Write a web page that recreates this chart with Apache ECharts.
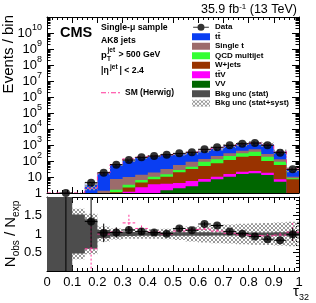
<!DOCTYPE html>
<html><head><meta charset="utf-8">
<script src="https://cdn.jsdelivr.net/npm/echarts@6/dist/echarts.min.js"></script>
<style>html,body{margin:0;padding:0;background:#fff}#c{width:316px;height:303px}</style>
</head><body><div id="c"></div>
<script>
// ---- data (tau_32 bins of width 0.05) ----
const binCenters = [0.025,0.075,0.125,0.175,0.225,0.275,0.325,0.375,0.425,0.475,0.525,0.575,0.625,0.675,0.725,0.775,0.825,0.875,0.925,0.975];
const binWidth = 0.05;
const vv      = [0,0,0,0,0,0.1,0.3,0.6,1.0,1.5,2.0,2.6,5.1,7.2,10.4,15.4,17,13.3,5.1,0.5];
const ttV     = [0,0,0,0,0.05,0.3,0.9,1.7,2.5,2.3,2.2,3.0,2.4,3.2,5.0,6.1,7,5.2,2.1,0.2];
const wJets   = [0,0,0,0,0.15,0.7,1.0,2.2,3.7,6.6,15.8,26.4,41.5,61.6,99.6,163.5,181,81.5,48.8,6.5];
const qcd     = [0,0,0,0,0.1,0.5,1.1,2.0,3.2,4.6,7,12,41,55,90,115,175,85,34,1.1];
const singleT = [0,0,0,0.3,1.1,5.9,6.7,7.5,8.6,17,29,46,43,78,95,140,160,85,37,2.1];
const ttbar   = [0.05,0.1,0.6,3.0,16.6,49.5,94,145,178,213,209,228,307,395,590,740,860,830,273,19.6];
const dataObs = [null,1,null,4.4,18.5,59,115,170,205,247,300,350,540,720,960,1200,1330,960,330,30];
const ratioObs = [null,10,null,1.34,1.03,1.04,1.11,1.07,1.04,1.01,1.15,1.10,1.27,1.23,1.07,1.01,0.93,0.86,0.83,0.99];
const ratioErr = [null,10,null,0.7,0.25,0.14,0.1,0.08,0.07,0.065,0.06,0.055,0.05,0.045,0.04,0.035,0.03,0.03,0.04,0.18];
const statUnc  = [2,2,0.53,0.4,0.11,0.07,0.055,0.05,0.05,0.045,0.045,0.045,0.045,0.04,0.04,0.04,0.04,0.04,0.045,0.06];
const totUnc   = [2,2,0.68,0.55,0.2,0.15,0.13,0.13,0.13,0.14,0.16,0.2,0.23,0.25,0.26,0.28,0.29,0.3,0.31,0.33];
const herwigRatio = [null,null,null,0.6,1.0,1.05,1.3,1.15,1.05,1.0,1.08,1.12,1.13,1.08,1.02,0.98,0.96,0.95,0.97,1.05];
const herwigErr   = [null,null,null,0.6,0.12,0.1,0.22,0.08,0.06,0.05,0.05,0.05,0.05,0.05,0.05,0.05,0.05,0.05,0.06,0.25];
const xTickLabels = ['0','0.1','0.2','0.3','0.4','0.5','0.6','0.7','0.8','0.9','1'];

const FONT = 'Liberation Sans, Arial, Helvetica, sans-serif';
const C = {tt:'#0a3ef2', st:'#9c6b6b', qcd:'#33ff33', w:'#993300', ttv:'#ff00ff', vv:'#006600', stat:'#4d4d4d', hw:'#ff3399'};

// hatch pattern
const pc = document.createElement('canvas'); pc.width = 4; pc.height = 4;
const g = pc.getContext('2d'); g.fillStyle = '#9a9a9a';
for (let i = 0; i < 4; i++) { g.fillRect(i, i, 1, 1); g.fillRect(i, 3 - i, 1, 1); }
const hatch = {image: pc, repeat: 'repeat'};

// cumulative stack (bottom -> top)
const layers = [vv, ttV, wJets, qcd, singleT, ttbar];
const cum = []; let run = binCenters.map(() => 0);
layers.forEach(l => { run = run.map((v, k) => v + l[k]); cum.push(run.slice()); });
const total = cum[cum.length - 1];

const YMIN = 1, YMAX = 1e11;
const clampLog = v => Math.min(YMAX, Math.max(YMIN, v));
const clampR = v => Math.min(2, Math.max(0, v));

function stepPolygon(api, lowFn, highFn) {
  const top = [], bot = [];
  binCenters.forEach((c, k) => {
    const x0 = c - binWidth / 2, x1 = c + binWidth / 2;
    top.push(api.coord([x0, highFn(k)]), api.coord([x1, highFn(k)]));
    bot.push(api.coord([x0, lowFn(k)]), api.coord([x1, lowFn(k)]));
  });
  return top.concat(bot.reverse());
}

function layerSeries(name, idx, color) {
  return {
    name, type: 'custom', xAxisIndex: 0, yAxisIndex: 0, data: [[0.5, 10]], clip: true,
    itemStyle: {color},
    renderItem: (p, api) => ({type: 'polygon', shape: {points: stepPolygon(api, () => YMIN, k => clampLog(cum[idx][k]))}, style: {fill: color}})
  };
}

const series = [
  layerSeries('tt\u0304', 5, C.tt),
  layerSeries('Single t', 4, C.st),
  layerSeries('QCD multijet', 3, C.qcd),
  layerSeries('W+jets', 2, C.w),
  layerSeries('tt\u0304V', 1, C.ttv),
  layerSeries('VV', 0, C.vv),
  // hatched unc on stack top
  {type: 'custom', xAxisIndex: 0, yAxisIndex: 0, data: [[0.5, 10]], clip: true, silent: true,
   renderItem: (p, api) => ({type: 'polygon', shape: {points: stepPolygon(api, k => clampLog(total[k] * (1 - Math.min(totUnc[k], 0.9))), k => clampLog(total[k] * (1 + totUnc[k])))}, style: {fill: hatch}})},
  // Herwig upper step line
  {name: 'SM (Herwig)', type: 'custom', xAxisIndex: 0, yAxisIndex: 0, data: [[0.5, 10]], clip: true, itemStyle: {color: C.hw},
   renderItem: (p, api) => {
     const pts = [];
     binCenters.forEach((c, k) => {
       const v = clampLog(total[k] * (herwigRatio[k] == null ? 1 : herwigRatio[k]));
       pts.push(api.coord([c - binWidth / 2, v]), api.coord([c + binWidth / 2, v]));
     });
     return {type: 'polyline', shape: {points: pts}, style: {stroke: C.hw, lineWidth: 1, lineDash: [4, 2, 1, 2], fill: null}};
   }},
  // data upper
  {name: 'Data', type: 'scatter', xAxisIndex: 0, yAxisIndex: 0, symbol: 'circle', symbolSize: 8, clip: true,
   itemStyle: {color: '#000'}, data: binCenters.map((c, k) => dataObs[k] == null ? null : [c, dataObs[k]]).filter(d => d)},
  {type: 'custom', xAxisIndex: 0, yAxisIndex: 0, clip: true, silent: true,
   data: binCenters.map((c, k) => dataObs[k] == null ? null : [c, dataObs[k]]).filter(d => d),
   renderItem: (p, api) => {
     const c = api.value(0), v = api.value(1);
     const a = api.coord([c - binWidth / 2, v]), b = api.coord([c + binWidth / 2, v]);
     return {type: 'line', shape: {x1: a[0], y1: a[1], x2: b[0], y2: b[1]}, style: {stroke: '#000', lineWidth: 1}};
   }},
  // ratio: total unc hatched
  {name: 'Bkg unc (stat+syst)', type: 'custom', xAxisIndex: 2, yAxisIndex: 2, data: [[0.5, 1]], clip: true, itemStyle: {color: hatch},
   renderItem: (p, api) => ({type: 'polygon', shape: {points: stepPolygon(api, k => clampR(1 - totUnc[k]), k => clampR(1 + totUnc[k]))}, style: {fill: hatch}})},
  // ratio: stat band
  {name: 'Bkg unc (stat)', type: 'custom', xAxisIndex: 2, yAxisIndex: 2, data: [[0.5, 1]], clip: true, itemStyle: {color: C.stat},
   renderItem: (p, api) => ({type: 'polygon', shape: {points: stepPolygon(api, k => clampR(1 - statUnc[k]), k => clampR(1 + statUnc[k]))}, style: {fill: C.stat}})},
  // ratio: Herwig
  {type: 'custom', xAxisIndex: 2, yAxisIndex: 2, clip: true, silent: true,
   data: binCenters.map((c, k) => herwigRatio[k] == null ? null : [c, herwigRatio[k], herwigErr[k]]).filter(d => d),
   renderItem: (p, api) => {
     const c = api.value(0), r = api.value(1), e = api.value(2);
     const a = api.coord([c - binWidth / 2, r]), b = api.coord([c + binWidth / 2, r]);
     const u = api.coord([c, clampR(r + e)]), d = api.coord([c, clampR(r - e)]);
     return {type: 'group', children: [
       {type: 'line', shape: {x1: a[0], y1: a[1], x2: b[0], y2: b[1]}, style: {stroke: C.hw, lineWidth: 1, lineDash: [3, 2]}},
       {type: 'line', shape: {x1: u[0], y1: u[1], x2: d[0], y2: d[1]}, style: {stroke: C.hw, lineWidth: 1, lineDash: [2, 2]}}
     ]};
   }},
  // ratio: data error bars
  {type: 'custom', xAxisIndex: 2, yAxisIndex: 2, clip: true, silent: true,
   data: binCenters.map((c, k) => ratioObs[k] == null ? null : [c, ratioObs[k], ratioErr[k]]).filter(d => d),
   renderItem: (p, api) => {
     const c = api.value(0), r = api.value(1), e = api.value(2);
     const rr = clampR(r);
     const a = api.coord([c - binWidth / 2, rr]), b = api.coord([c + binWidth / 2, rr]);
     const u = api.coord([c, clampR(r + e)]), d = api.coord([c, clampR(r - e)]);
     const ch = [{type: 'line', shape: {x1: u[0], y1: u[1], x2: d[0], y2: d[1]}, style: {stroke: '#000', lineWidth: 1}}];
     if (r <= 2) ch.push({type: 'line', shape: {x1: a[0], y1: a[1], x2: b[0], y2: b[1]}, style: {stroke: '#000', lineWidth: 1}});
     return {type: 'group', children: ch};
   }},
  {type: 'scatter', xAxisIndex: 2, yAxisIndex: 2, symbol: 'circle', symbolSize: 8, clip: true, silent: true,
   itemStyle: {color: '#000'}, data: binCenters.map((c, k) => ratioObs[k] == null ? null : [c, ratioObs[k]]).filter(d => d)}
];

function xAx(grid, pos, labels) {
  return {type: 'value', gridIndex: grid, position: pos, min: 0, max: 1, interval: 0.1,
    axisLine: {show: true, onZero: false, lineStyle: {color: '#000', width: 1}},
    axisTick: {show: true, inside: true, length: 6, lineStyle: {color: '#000'}},
    minorTick: {show: true, splitNumber: 5, length: 3, lineStyle: {color: '#000'}},
    splitLine: {show: false},
    axisLabel: labels ? {show: true, margin: 5, color: '#000', fontSize: 13, fontFamily: FONT, interval: 0, hideOverlap: false,
      formatter: v => xTickLabels[Math.round(v * 10)]} : {show: false}};
}
function logAx(pos, labels) {
  return {type: 'log', gridIndex: 0, position: pos, logBase: 10, min: YMIN, max: YMAX, interval: 1, splitNumber: 11,
    axisLine: {show: true, onZero: false, lineStyle: {color: '#000', width: 1}},
    axisTick: {show: true, inside: true, length: 7, interval: 0, lineStyle: {color: '#000'}},
    minorTick: {show: true, splitNumber: 9, length: 3.5, lineStyle: {color: '#000'}},
    splitLine: {show: false},
    axisLabel: labels ? {show: true, margin: 5, color: '#000', fontFamily: FONT, interval: 0, hideOverlap: false,
      formatter: v => { const e = Math.round(Math.log10(v)); if (e === 0) return '{b|1}'; if (e === 1) return '{b|10}'; if (e >= 11) return ''; return '{b|10}{s|' + e + '}'; },
      rich: {b: {fontSize: 13, fontFamily: FONT, lineHeight: 13, verticalAlign: 'bottom'},
             s: {fontSize: 9, fontFamily: FONT, lineHeight: 9, padding: [0, 0, 7, 0], verticalAlign: 'bottom'}}} : {show: false}};
}
function ratioAx(pos, labels) {
  return {type: 'value', gridIndex: 1, position: pos, min: 0, max: 2, interval: 0.5,
    axisLine: {show: true, onZero: false, lineStyle: {color: '#000', width: 1}},
    axisTick: {show: true, inside: true, length: 6, lineStyle: {color: '#000'}},
    minorTick: {show: true, splitNumber: 5, length: 3, lineStyle: {color: '#000'}},
    splitLine: {show: false},
    axisLabel: labels ? {show: true, margin: 5, color: '#000', fontSize: 13, fontFamily: FONT,
      formatter: v => (v <= 0 || v >= 2) ? '' : String(v)} : {show: false}};
}

const dataIcon = 'path://M0,3.5L18,3.5L18,4.5L0,4.5Z M9,0A4,4 0 1,1 9,8A4,4 0 1,1 9,0Z';
const hwIcon = 'path://M0,0h5v1h-5z M7,0h1v1h-1z M10,0h5v1h-5z M17,0h2v1h-2z';
const legTxt = {fontSize: 8, fontWeight: 'bold', fontFamily: FONT, color: '#000', lineHeight: 9.5};
const leftTxt = {fontSize: 8.5, fontWeight: 'bold', fontFamily: FONT, color: '#000', lineHeight: 9.5};

const option = {
  animation: false,
  backgroundColor: '#fff',
  grid: [{left: 47, top: 17, width: 252, height: 176}, {left: 47, top: 197, width: 252, height: 74}],
  xAxis: [xAx(0, 'bottom', false), xAx(0, 'top', false), xAx(1, 'bottom', true), xAx(1, 'top', false)],
  yAxis: [logAx('left', true), logAx('right', false), ratioAx('left', true), ratioAx('right', false)],
  legend: [
    {orient: 'vertical', left: 192, top: 22.5, itemWidth: 18, itemHeight: 7, itemGap: 0, selectedMode: false,
     textStyle: legTxt, padding: 0,
     data: [{name: 'Data', icon: dataIcon}, {name: 'tt\u0304', icon: 'rect'}, {name: 'Single t', icon: 'rect'},
            {name: 'QCD multijet', icon: 'rect'}, {name: 'W+jets', icon: 'rect'}, {name: 'tt\u0304V', icon: 'rect'},
            {name: 'VV', icon: 'rect'}, {name: 'Bkg unc (stat)', icon: 'rect'}, {name: 'Bkg unc (stat+syst)', icon: 'rect'}]},
    {orient: 'vertical', left: 101, top: 88, itemWidth: 19, itemHeight: 1.5, selectedMode: false, padding: 0,
     textStyle: leftTxt, data: [{name: 'SM (Herwig)', icon: hwIcon}]}
  ],
  graphic: [
    {type: 'text', x: 60, y: 33, style: {text: 'CMS', font: 'bold 14.5px ' + FONT, fill: '#000', textAlign: 'left', textVerticalAlign: 'middle', align: 'left', verticalAlign: 'middle'}},
    {type: 'text', x: 101, y: 27.3, style: {text: 'Single-\u03bc sample', font: 'bold 8.7px ' + FONT, fill: '#000', textVerticalAlign: 'middle', verticalAlign: 'middle'}},
    {type: 'text', x: 101, y: 41, style: {text: 'AK8 jets', font: 'bold 8.7px ' + FONT, fill: '#000', textVerticalAlign: 'middle', verticalAlign: 'middle'}},
    {type: 'text', x: 101, y: 55, style: {text: 'p', font: 'bold 9.5px ' + FONT, fill: '#000', textVerticalAlign: 'middle', verticalAlign: 'middle'}},
    {type: 'text', x: 107, y: 59.5, style: {text: 'T', font: 'bold 6.5px ' + FONT, fill: '#000', textVerticalAlign: 'middle', verticalAlign: 'middle'}},
    {type: 'text', x: 107.5, y: 50, style: {text: 'jet', font: 'bold 6.5px ' + FONT, fill: '#000', textVerticalAlign: 'middle', verticalAlign: 'middle'}},
    {type: 'text', x: 118.5, y: 55, style: {text: '> 500 GeV', font: 'bold 8.7px ' + FONT, fill: '#000', textVerticalAlign: 'middle', verticalAlign: 'middle'}},
    {type: 'text', x: 101, y: 71, style: {text: '|\u03b7', font: 'bold 8.7px ' + FONT, fill: '#000', textVerticalAlign: 'middle', verticalAlign: 'middle'}},
    {type: 'text', x: 110, y: 67.5, style: {text: 'jet', font: 'bold 6.5px ' + FONT, fill: '#000', textVerticalAlign: 'middle', verticalAlign: 'middle'}},
    {type: 'text', x: 119.5, y: 71, style: {text: '| < 2.4', font: 'bold 8.7px ' + FONT, fill: '#000', textVerticalAlign: 'middle', verticalAlign: 'middle'}},
    {type: 'text', x: 297, y: 10, style: {text: '{a|35.9 fb}{s|-1}{a| (13 TeV)}', fill: '#000', textAlign: 'right', textVerticalAlign: 'middle', align: 'right', verticalAlign: 'middle',
      rich: {a: {fontSize: 12.5, fontFamily: FONT, lineHeight: 13, verticalAlign: 'bottom'}, s: {fontSize: 8, fontFamily: FONT, lineHeight: 8, padding: [0, 0, 6, 0], verticalAlign: 'bottom'}}}},
    {type: 'text', x: 9, y: 15, rotation: Math.PI / 2, style: {text: 'Events / bin', font: '15px ' + FONT, fill: '#000', textAlign: 'right', textVerticalAlign: 'middle', align: 'right', verticalAlign: 'middle'}},
    {type: 'text', x: 11, y: 234, rotation: Math.PI / 2, style: {text: '{n|N}{s|obs}{n| / N}{s|exp}', fill: '#000', textAlign: 'center', textVerticalAlign: 'middle', align: 'center', verticalAlign: 'middle',
      rich: {n: {fontSize: 15, fontFamily: FONT, lineHeight: 15, verticalAlign: 'top'}, s: {fontSize: 10, fontFamily: FONT, lineHeight: 10, padding: [8, 0, 0, 0], verticalAlign: 'top'}}}},
    {type: 'text', x: 309, y: 292, style: {text: '{t|\u03c4}{s|32}', fill: '#000', textAlign: 'right', textVerticalAlign: 'middle', align: 'right', verticalAlign: 'middle',
      rich: {t: {fontSize: 15, fontFamily: FONT, lineHeight: 15, verticalAlign: 'top'}, s: {fontSize: 9, fontFamily: FONT, lineHeight: 9, padding: [9, 0, 0, 0], verticalAlign: 'top'}}}}
  ],
  series
};
const chart = echarts.init(document.getElementById('c'), null, {renderer: 'canvas'});
chart.setOption(option);
</script></body></html>
